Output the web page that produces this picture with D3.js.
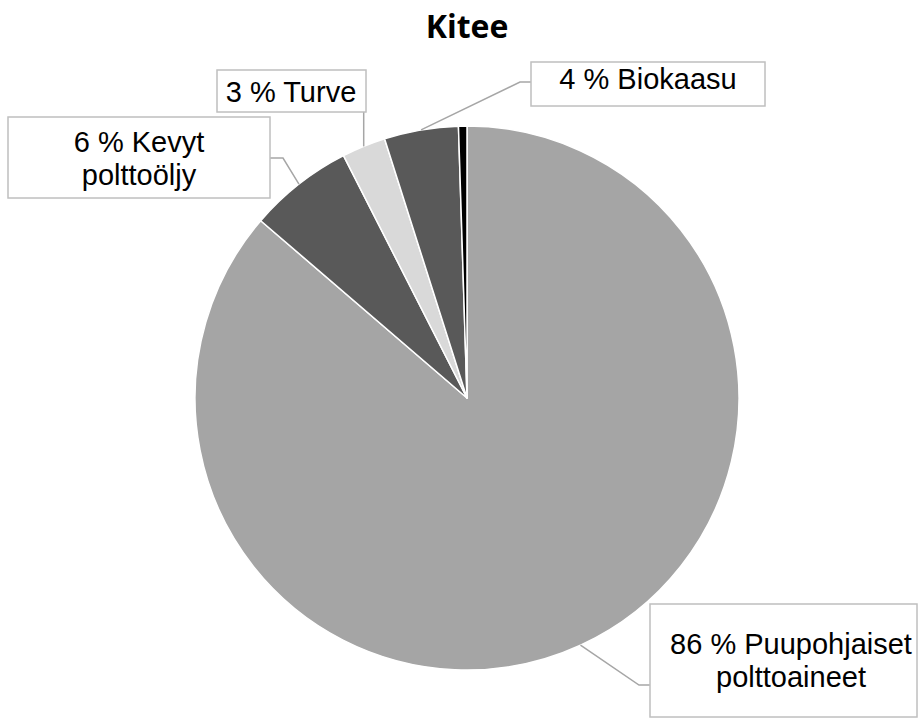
<!DOCTYPE html>
<html><head><meta charset="utf-8">
<script src="https://cdn.jsdelivr.net/npm/d3@7"></script>
<style>body{margin:0;background:#fff}svg{display:block}</style>
</head><body>
<svg id="c" width="921" height="720"></svg>
<script>
const title = "Kitee";
const categories = ["Puupohjaiset polttoaineet", "Kevyt polttoöljy", "Turve", "Biokaasu", "Muut"];
const values = [86.3, 6.2, 2.6, 4.4, 0.5];
const colors = ["#a5a5a5", "#595959", "#d9d9d9", "#595959", "#000000"];
const labelLines = [["86 % Puupohjaiset", "polttoaineet"], ["6 % Kevyt", "polttoöljy"], ["3 % Turve"], ["4 % Biokaasu"], null];

// label box layout (left, top, right, bottom), text centre/baseline, elbow of the leader
const boxes = [
  {x0: 650, y0: 604, x1: 917, y1: 717, tx: 791, ty: 654, ly: 685, ex: 639},
  {x0: 8, y0: 117, x1: 270, y1: 198, tx: 139, ty: 152, ly: 158, ex: 283},
  {x0: 217, y0: 70, x1: 366, y1: 112, tx: 291, ty: 102, vertical: true},
  {x0: 531, y0: 62, x1: 765, y1: 106, tx: 648, ty: 89, ly: 82, ex: 520},
  null
];

const svg = d3.select("#c");
const cx = 467, cy = 398, r = 272;

svg.append("text").attr("x", cx).attr("y", 38).attr("text-anchor", "middle")
  .attr("font-family", "'Open Sans', sans-serif").attr("font-weight", "bold")
  .attr("font-size", 32).attr("fill", "#000").text(title);

const pie = d3.pie().sort(null).value(d => d)(values);
const arc = d3.arc().innerRadius(0).outerRadius(r);
const g = svg.append("g").attr("transform", `translate(${cx},${cy})`);
g.selectAll("path").data(pie).join("path")
  .attr("d", arc).attr("fill", (d, i) => colors[i])
  .attr("stroke", "#fff").attr("stroke-width", 1.5).attr("stroke-linejoin", "round");

pie.forEach((d, i) => {
  const b = boxes[i];
  if (!b) return;
  const a = (d.startAngle + d.endAngle) / 2;
  const px = cx + r * Math.sin(a), py = cy - r * Math.cos(a);
  let pts;
  if (b.vertical) {
    pts = [[px, py], [px, b.y1]];
  } else {
    const bx = px < b.x0 ? b.x0 : b.x1;
    pts = [[px, py], [b.ex, b.ly], [bx, b.ly]];
  }
  svg.append("path").attr("d", d3.line()(pts)).attr("fill", "none")
    .attr("stroke", "#a6a6a6").attr("stroke-width", 1.5);
  svg.append("rect").attr("x", b.x0).attr("y", b.y0).attr("width", b.x1 - b.x0).attr("height", b.y1 - b.y0)
    .attr("fill", "#fff").attr("stroke", "#bfbfbf").attr("stroke-width", 1.5);
  const lines = labelLines[i];
  const t = svg.append("text").attr("text-anchor", "middle")
    .attr("font-family", "'Liberation Sans', Arial, sans-serif").attr("font-size", 29).attr("fill", "#000");
  lines.forEach((s, k) => {
    t.append("tspan").attr("x", b.tx).attr("y", b.ty + k * 33).text(s);
  });
});
</script>
</body></html>
